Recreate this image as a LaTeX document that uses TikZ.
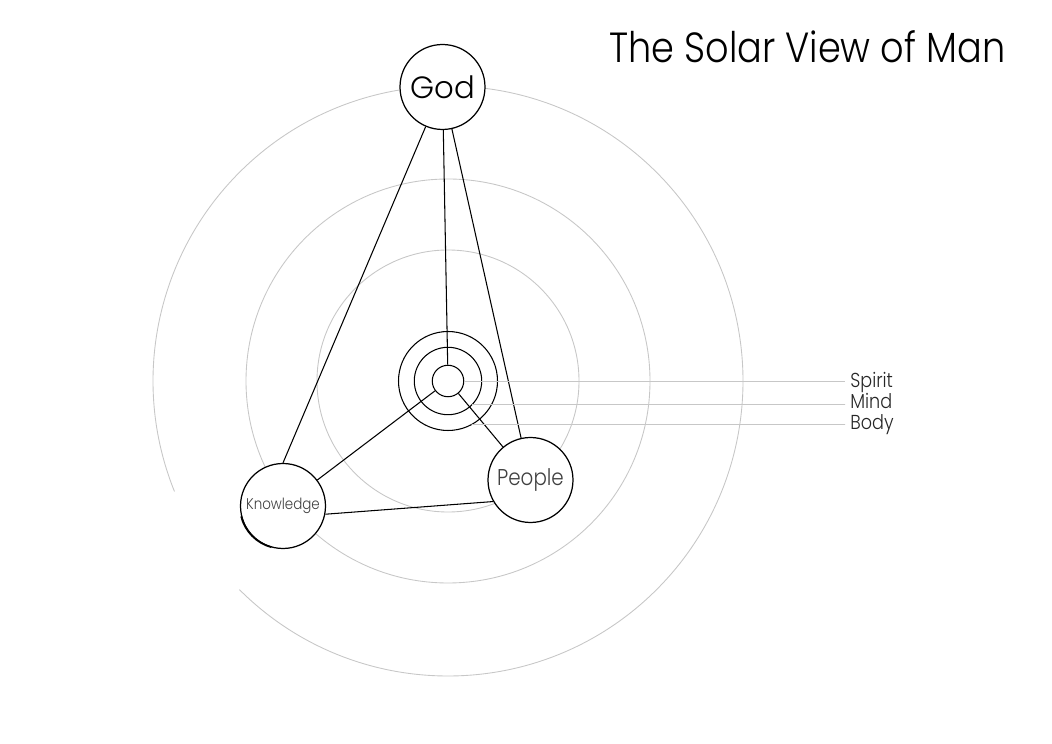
\documentclass[tikz,border=0pt]{standalone}
\usepackage{fontspec}
\setmainfont{Poppins}[UprightFont={* Light}]
\newfontfamily\narrowfont{Poppins}[UprightFont={* Light}, FakeStretch=0.87]
\usetikzlibrary{calc}

\begin{document}
\begin{tikzpicture}[x=0.02cm, y=0.02cm,
                    orbit/.style={draw=black!22, line width=0.5pt},
                    ring/.style={draw, line width=0.6pt},
                    link/.style={draw, line width=0.6pt},
                    planet/.style={draw, circle, fill=white, line width=0.7pt, minimum size=1.7cm, inner sep=0pt},
                    tag/.style={anchor=base west, inner sep=0pt, text=black!85, font=\narrowfont\fontsize{11.5}{12}\selectfont}
                    ]
    \useasboundingbox (0,0) rectangle (1052,744);

    % orbits of the body, mind and spirit
    \draw[orbit] (448,363) circle[radius=131];
    \draw[orbit] (448,363) circle[radius=202];
    \draw[orbit] (448,363) ++(-135:295) arc[start angle=-135, end angle=202, radius=295];

    \node[draw, circle, line width=0.6pt, minimum size=0.63cm, inner sep=0pt] (soul) at (448,363) {};
    \draw[ring] (soul) circle[radius=33.7];
    \draw[ring] (soul) circle[radius=49.5];

    \node[planet, font=\fontsize{17.5}{18}\selectfont] (god) at (442.5,657) {God};
    \node[planet, text=black!75, font=\narrowfont\fontsize{13}{14}\selectfont] (people) at (530.5,264) {People};
    \node[planet, text=black!75, font=\narrowfont\fontsize{8.8}{9}\selectfont] (knowledge) at (283,238) {Knowledge};
    \draw[line width=1pt] (knowledge.194) arc[start angle=194, end angle=255, radius=42.5];

    \foreach \i/\j in {god/soul,god/people,knowledge/soul,people/soul}{
        \draw[link] (\i) -- (\j);
    }
    \draw[link] (god) -- (knowledge.north);
    \draw[link] (knowledge.-11) -- (people.210);

    % labels of the three rings
    \coordinate (spiritend) at (845,363);
    \coordinate (mindend) at (845,339.5);
    \coordinate (bodyend) at (845,319.5);
    \coordinate (mindstart) at ($(soul)+(-44.2:33.7)$);
    \coordinate (bodystart) at ($(soul)+(-61.5:49.5)$);
    \draw[orbit] (soul.east) -- (spiritend);
    \draw[orbit] (mindstart) -- (mindend);
    \draw[orbit] (bodystart) -- (bodyend);

    \node[tag] (spirit) at (850,356.3) {Spirit};
    \node[tag] (mind) at (850,335.5) {Mind};
    \node[tag] (body) at (850,314) {Body};

    \node[anchor=base west, inner sep=0pt, font=\narrowfont\fontsize{24}{26}\selectfont] (title) at (609,681.3) {The Solar View of Man};
\end{tikzpicture}
\end{document}
